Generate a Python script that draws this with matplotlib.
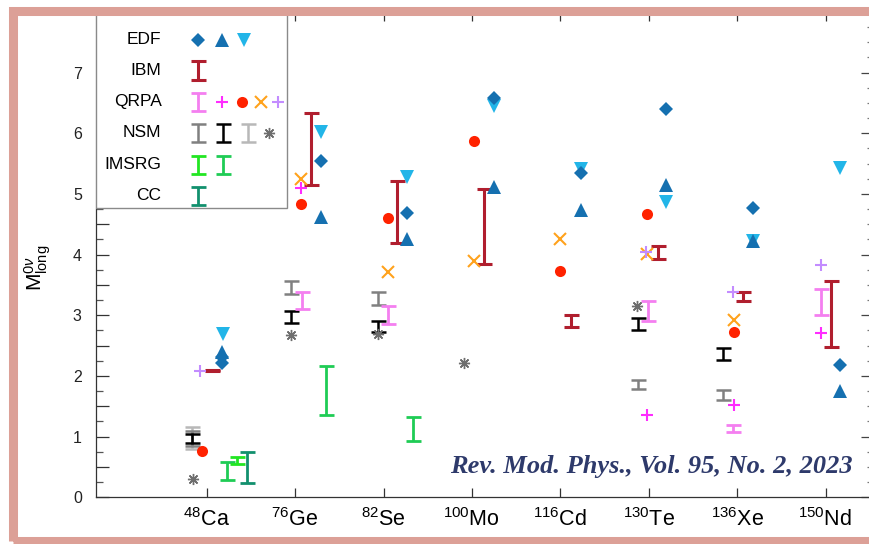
import numpy as np
import matplotlib
matplotlib.use("Agg")
import matplotlib.pyplot as plt
from matplotlib.patches import Rectangle
from matplotlib.ticker import MultipleLocator, FuncFormatter

plt.rcParams['font.family'] = ['Liberation Sans', 'DejaVu Sans']
plt.rcParams['mathtext.fontset'] = 'custom'
plt.rcParams['mathtext.rm'] = 'Liberation Sans'
plt.rcParams['mathtext.it'] = 'Liberation Sans:italic'
plt.rcParams['mathtext.bf'] = 'Liberation Sans:bold'

# isotopes on the x axis (position i+1)
masses = ["48", "76", "82", "100", "116", "130", "136", "150"]
elements = ["Ca", "Ge", "Se", "Mo", "Cd", "Te", "Xe", "Nd"]

# EDF
edf_d_x = [1.17, 1.17, 2.29, 3.27, 4.25, 5.23, 6.20, 7.18, 8.16]
edf_d_y = [2.31, 2.21, 5.55, 4.69, 6.58, 5.34, 6.40, 4.77, 2.18]
edf_up_x = [1.17, 2.29, 3.27, 4.25, 5.23, 6.20, 7.18, 8.16]
edf_up_y = [2.40, 4.62, 4.25, 5.11, 4.74, 5.15, 4.22, 1.76]
edf_dn_x = [1.18, 2.29, 3.27, 4.25, 5.23, 6.20, 7.18, 8.16]
edf_dn_y = [2.69, 6.02, 5.28, 6.45, 5.42, 4.86, 4.22, 5.43]

# IBM ranges
ibm_x = [1.06, 2.18, 3.15, 4.14, 5.12, 6.10, 7.07, 8.06]
ibm_lo = [2.08, 5.14, 4.20, 3.84, 2.81, 3.93, 3.23, 2.48]
ibm_hi = [2.10, 6.34, 5.21, 5.09, 3.00, 4.15, 3.39, 3.57]

# QRPA
qrpa_bar_x = [2.075, 3.05, 5.995, 6.957, 7.946]
qrpa_bar_lo = [3.11, 2.86, 2.90, 1.08, 3.01]
qrpa_bar_hi = [3.39, 3.15, 3.23, 1.19, 3.43]
qrpa_plus_x = [2.067, 5.98, 6.968, 7.946]
qrpa_plus_y = [5.10, 1.36, 1.52, 2.71]
qrpa_dot_x = [0.95, 2.067, 3.05, 4.027, 5.0, 5.98, 6.965]
qrpa_dot_y = [0.77, 4.84, 4.60, 5.87, 3.73, 4.67, 2.72]
qrpa_cross_x = [2.067, 3.05, 4.02, 5.0, 5.98, 6.96]
qrpa_cross_y = [5.25, 3.72, 3.90, 4.25, 4.01, 2.93]
qrpa_lplus_x = [0.924, 5.97, 6.95, 7.946]
qrpa_lplus_y = [2.09, 4.05, 3.39, 3.83]

# NSM
nsm_grey_x = [0.83, 1.954, 2.934, 5.876, 6.844]
nsm_grey_lo = [0.84, 3.35, 3.17, 1.78, 1.61]
nsm_grey_hi = [1.10, 3.57, 3.39, 1.94, 1.77]
nsm_black_x = [0.83, 1.954, 2.934, 5.876, 6.844]
nsm_black_lo = [0.90, 2.88, 2.73, 2.75, 2.27]
nsm_black_hi = [1.04, 3.07, 2.91, 2.96, 2.46]
nsm_light_x = [0.83]
nsm_light_lo = [0.80]
nsm_light_hi = [1.16]
nsm_star_x = [0.84, 1.954, 2.94, 3.91, 5.87]
nsm_star_y = [0.30, 2.68, 2.70, 2.22, 3.16]

# IMSRG
imsrg1_x = [1.34]
imsrg1_lo = [0.55]
imsrg1_hi = [0.67]
imsrg2_x = [1.226, 2.35, 3.33]
imsrg2_lo = [0.29, 1.36, 0.92]
imsrg2_hi = [0.59, 2.17, 1.33]

# CC
cc_x = [1.452]
cc_lo = [0.24]
cc_hi = [0.75]

C_EDF = '#1570b0'
C_EDF2 = '#22b5e8'
C_IBM = '#b01e2e'
C_PINK = '#f47ff0'
C_MAG = '#ff2cff'
C_RED = '#ff2200'
C_ORANGE = '#ffa21c'
C_LAV = '#c38cff'
C_GREY = '#808080'
C_LGREY = '#b8b8b8'
C_STAR = '#6e6e6e'
C_LIME = '#22e622'
C_GREEN = '#1fcc55'
C_CC = '#12906e'


def ibar(ax, x, lo, hi, color, lw=2.0, cap=5.4, z=5):
    lo = np.asarray(lo, float)
    hi = np.asarray(hi, float)
    ax.errorbar(x, (lo + hi) / 2, yerr=(hi - lo) / 2, fmt='none', ecolor=color,
                elinewidth=lw, capsize=cap, capthick=lw, zorder=z)


def mark(ax, x, y, m, color, ms, lw=1.5, z=6):
    filled = m in ('D', '^', 'v', 'o')
    if filled:
        ax.plot(x, y, ls='none', marker=m, ms=ms, color=color, mec=color, mew=0, zorder=z)
    else:
        ax.plot(x, y, ls='none', marker=m, ms=ms, color=color, mew=lw, zorder=z)


W, H = 869, 544
fig = plt.figure(figsize=(W / 100, H / 100), dpi=100)
ax_l, ax_r, ax_b, ax_t = 95.7, 869.7, 497.3, 12.0
ax = fig.add_axes([ax_l / W, 1 - ax_b / H, (ax_r - ax_l) / W, (ax_b - ax_t) / H])
ax.set_xlim(-0.2557, 8.5)
ax.set_ylim(0, 8.0)

# points and bars
ibar(ax, nsm_light_x, nsm_light_lo, nsm_light_hi, C_LGREY, lw=1.8)
ibar(ax, nsm_grey_x, nsm_grey_lo, nsm_grey_hi, C_GREY, lw=1.8)
ibar(ax, nsm_black_x, nsm_black_lo, nsm_black_hi, 'black', lw=1.8)
mark(ax, nsm_star_x, nsm_star_y, (8, 2, 0), C_STAR, 8, lw=1.0)
ibar(ax, imsrg2_x, imsrg2_lo, imsrg2_hi, C_GREEN)
ibar(ax, imsrg1_x, imsrg1_lo, imsrg1_hi, C_LIME)
ibar(ax, cc_x, cc_lo, cc_hi, C_CC)
ibar(ax, qrpa_bar_x, qrpa_bar_lo, qrpa_bar_hi, C_PINK)
mark(ax, qrpa_dot_x, qrpa_dot_y, 'o', C_RED, 8)
mark(ax, qrpa_cross_x, qrpa_cross_y, 'x', C_ORANGE, 9, lw=1.5)
mark(ax, qrpa_plus_x, qrpa_plus_y, '+', C_MAG, 9, lw=1.5)
mark(ax, qrpa_lplus_x, qrpa_lplus_y, '+', C_LAV, 9, lw=1.5)
ibar(ax, ibm_x, ibm_lo, ibm_hi, C_IBM, lw=2.2)
mark(ax, edf_dn_x, edf_dn_y, 'v', C_EDF2, 10)
mark(ax, edf_up_x, edf_up_y, '^', C_EDF, 10)
mark(ax, edf_d_x, edf_d_y, 'D', C_EDF, 7.2)

# legend panel, drawn by hand in data units
ax.add_patch(Rectangle((-0.2557, 4.77), 1.905 + 0.2557, 3.5, facecolor='white',
                       edgecolor='#8a8a8a', lw=1.0, zorder=8))
rows = [7.546, 7.035, 6.518, 6.007, 5.484, 4.972]
names = ["EDF", "IBM", "QRPA", "NSM", "IMSRG", "CC"]
for name, ry in zip(names, rows):
    ax.text(0.49, ry, name, ha='right', va='center', fontsize=12.5, zorder=9)
c1, c2 = 0.898, 1.181
hl = 0.15


def leg_bar(x, y, color, lw=2.0):
    ibar(ax, [x], [y - hl], [y + hl], color, lw=lw, z=9)


mark(ax, [c1], [rows[0]], 'D', C_EDF, 7.2, z=9)
mark(ax, [1.17], [rows[0]], '^', C_EDF, 10, z=9)
mark(ax, [1.42], [rows[0]], 'v', C_EDF2, 10, z=9)
leg_bar(c1, rows[1], C_IBM, lw=2.2)
leg_bar(c1, rows[2], C_PINK)
mark(ax, [1.17], [rows[2]], '+', C_MAG, 9, z=9)
mark(ax, [1.40], [rows[2]], 'o', C_RED, 8, z=9)
mark(ax, [1.61], [rows[2]], 'x', C_ORANGE, 9, z=9)
mark(ax, [1.81], [rows[2]], '+', C_LAV, 9, z=9)
leg_bar(c1, rows[3], C_GREY, lw=1.8)
leg_bar(c2, rows[3], 'black', lw=1.8)
leg_bar(1.47, rows[3], C_LGREY, lw=1.8)
mark(ax, [1.70], [rows[3]], (8, 2, 0), C_STAR, 8, lw=1.0, z=9)
leg_bar(c1, rows[4], C_LIME)
leg_bar(c2, rows[4], C_GREEN)
leg_bar(c1, rows[5], C_CC)

# axes styling
for s in ax.spines.values():
    s.set_color('#333333')
    s.set_linewidth(0.9)
ax.set_xticks(np.arange(1, 9))
ax.set_xticklabels([rf'$^{{{m}}}$' + e for m, e in zip(masses, elements)], fontsize=15.5)
ax.tick_params(axis='x', which='both', direction='in', length=6.5, width=0.9,
               color='#333333', top=True, pad=8)
ax.yaxis.set_major_locator(MultipleLocator(0.5))
ax.yaxis.set_minor_locator(MultipleLocator(0.25))
ax.yaxis.set_major_formatter(
    FuncFormatter(lambda v, p: f'{int(v)}' if v == int(v) and v < 7.5 else ''))
ax.tick_params(axis='y', which='major', direction='in', length=9.5, width=0.9,
               color='#333333', labelsize=11.5, labelcolor='#222222', pad=10)
ax.tick_params(axis='y', which='minor', direction='in', length=5, width=0.9, color='#555555')

sec = ax.secondary_yaxis('right')
sec.yaxis.set_major_locator(MultipleLocator(1))
sec.yaxis.set_minor_locator(MultipleLocator(0.25))
sec.tick_params(which='major', direction='in', length=6.5, width=0.9, color='#444444',
                labelright=False)
sec.tick_params(which='minor', direction='in', length=2, width=0.9, color='#777777')

fig.text(38 / W, 1 - 268 / H, r'$\mathrm{M}^{0\nu}_{\mathrm{long}}$', rotation=90,
         fontsize=15, ha='center', va='center')

fig.text(853 / W, 1 - 467 / H, "Rev. Mod. Phys., Vol. 95, No. 2, 2023",
         family='Liberation Serif', style='italic', weight='bold', fontsize=19,
         color='#2e3a6b', ha='right', va='center')

# salmon frame
frame = Rectangle((12.5 / W, 3 / H), (900 - 12.5) / W, (541 - 11) / H,
                  transform=fig.transFigure, fill=False, edgecolor='#dca097',
                  lw=6.5, zorder=10)
fig.add_artist(frame)

fig.savefig('out.png', dpi=100)
